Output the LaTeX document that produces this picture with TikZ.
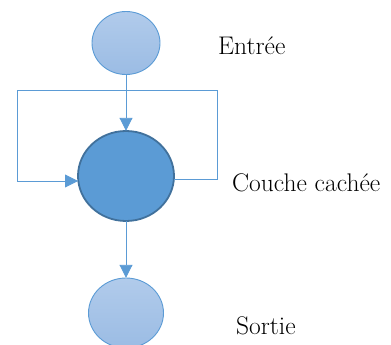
\documentclass[tikz,border=0pt]{standalone}
\usetikzlibrary{arrows.meta}
\definecolor{lineblue}{HTML}{5B9BD5}
\definecolor{darkrim}{HTML}{41719C}
\definecolor{lighttop}{HTML}{B1CBEB}
\definecolor{lightbot}{HTML}{9BBCE4}
\begin{document}
\begin{tikzpicture}[x=1pt,y=-1pt,
  lightnode/.style={draw=lineblue, line width=0.9pt, top color=lighttop, bottom color=lightbot, inner sep=0},
  hiddennode/.style={draw=darkrim, line width=1.8pt, fill=lineblue, inner sep=0},
  link/.style={draw=lineblue, line width=0.9pt},
  tip/.style={-{Triangle[length=13pt,width=13pt]}},
  lbl/.style={anchor=base west, inner sep=0, font=\fontsize{25.5}{30}\selectfont}]
\useasboundingbox (0,0) rectangle (391,345);
% nodes
\path[lightnode] (126,43) ellipse [x radius=34, y radius=31.5];
\node[minimum width=68pt, minimum height=63pt, inner sep=0] (in) at (126,43) {};
\path[hiddennode] (126,176) ellipse [x radius=48, y radius=45];
\node[minimum width=96pt, minimum height=90pt, inner sep=0] (hid) at (126,176) {};
\path[lightnode] (126,313) ellipse [x radius=37.5, y radius=35];
\node[minimum width=75pt, minimum height=70pt, inner sep=0] (out) at (126,313) {};
% coordinates for loop
\coordinate (hr) at (174,179);
\coordinate (hl) at (78,181);
\coordinate (c1) at (217,179);
\coordinate (c2) at (217,90);
\coordinate (c3) at (17,90);
\coordinate (c4) at (17,181);
% connectors
\draw[link,tip] (in.south) -- (hid.north);
\draw[link,tip] (hid.south) -- (out.north);
\draw[link,tip] (hr) -- (c1) -- (c2) -- (c3) -- (c4) -- (hl);
% labels
\node[lbl] (l1) at (218,55) {Entrée};
\node[lbl] (l2) at (232,191) {Couche cachée};
\node[lbl] (l3) at (236,334) {Sortie};
\end{tikzpicture}
\end{document}
